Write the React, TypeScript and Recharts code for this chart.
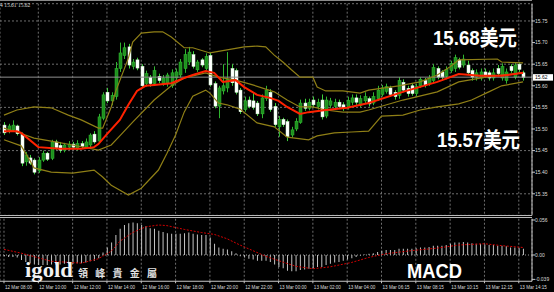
import React from 'react';
import { ComposedChart, Bar, Line, XAxis, YAxis, CartesianGrid, ReferenceLine } from 'recharts';

// ---- candles (M15) ----
const opens = [15.509,15.494,15.498,15.507,15.488,15.424,15.433,15.428,15.403,15.428,15.444,15.432,15.470,15.462,15.451,15.458,15.465,15.456,15.466,15.458,15.463,15.488,15.472,15.525,15.585,15.565,15.575,15.640,15.670,15.690,15.645,15.660,15.645,15.605,15.620,15.605,15.622,15.605,15.605,15.600,15.618,15.625,15.640,15.655,15.672,15.637,15.660,15.640,15.670,15.605,15.553,15.588,15.595,15.640,15.635,15.590,15.545,15.567,15.565,15.560,15.535,15.570,15.585,15.552,15.505,15.522,15.517,15.486,15.500,15.515,15.560,15.548,15.567,15.552,15.567,15.530,15.555,15.552,15.562,15.556,15.550,15.562,15.572,15.555,15.565,15.570,15.560,15.570,15.580,15.587,15.595,15.585,15.578,15.608,15.594,15.600,15.582,15.600,15.612,15.605,15.612,15.640,15.632,15.622,15.635,15.640,15.660,15.648,15.648,15.635,15.620,15.618,15.632,15.630,15.618,15.640,15.618,15.612,15.645,15.620,15.650,15.630];
const highs = [15.516,15.512,15.520,15.510,15.492,15.447,15.440,15.432,15.435,15.450,15.447,15.475,15.475,15.470,15.468,15.472,15.470,15.474,15.472,15.478,15.490,15.495,15.535,15.585,15.595,15.585,15.655,15.700,15.700,15.697,15.662,15.665,15.650,15.635,15.625,15.645,15.628,15.625,15.630,15.638,15.640,15.662,15.685,15.690,15.680,15.660,15.664,15.675,15.676,15.610,15.600,15.650,15.678,15.650,15.640,15.595,15.575,15.575,15.585,15.565,15.580,15.600,15.592,15.560,15.530,15.526,15.522,15.505,15.525,15.568,15.570,15.570,15.575,15.570,15.580,15.575,15.572,15.570,15.568,15.562,15.575,15.580,15.580,15.578,15.585,15.575,15.585,15.600,15.602,15.605,15.600,15.590,15.620,15.615,15.600,15.605,15.605,15.620,15.618,15.625,15.650,15.645,15.636,15.645,15.658,15.672,15.665,15.672,15.658,15.640,15.638,15.640,15.640,15.635,15.640,15.648,15.652,15.640,15.650,15.655,15.655,15.635];
const lows = [15.486,15.490,15.495,15.485,15.414,15.415,15.417,15.395,15.398,15.424,15.426,15.428,15.452,15.445,15.446,15.452,15.452,15.450,15.455,15.454,15.458,15.466,15.468,15.520,15.560,15.555,15.568,15.632,15.662,15.640,15.638,15.636,15.595,15.598,15.598,15.600,15.606,15.600,15.598,15.595,15.612,15.620,15.630,15.648,15.640,15.632,15.643,15.635,15.598,15.548,15.525,15.580,15.585,15.600,15.580,15.535,15.540,15.548,15.545,15.530,15.525,15.565,15.540,15.505,15.482,15.505,15.472,15.480,15.495,15.512,15.542,15.543,15.550,15.545,15.522,15.525,15.548,15.548,15.546,15.542,15.545,15.555,15.556,15.550,15.560,15.552,15.555,15.565,15.575,15.582,15.575,15.568,15.570,15.585,15.575,15.577,15.575,15.595,15.596,15.600,15.606,15.615,15.612,15.615,15.630,15.632,15.638,15.642,15.625,15.612,15.612,15.612,15.618,15.612,15.612,15.622,15.612,15.605,15.630,15.615,15.632,15.612];
const closes = [15.491,15.507,15.509,15.489,15.421,15.440,15.421,15.400,15.428,15.444,15.430,15.470,15.457,15.451,15.463,15.465,15.458,15.466,15.460,15.470,15.486,15.470,15.528,15.579,15.565,15.578,15.640,15.676,15.688,15.648,15.655,15.641,15.600,15.628,15.605,15.635,15.612,15.618,15.625,15.630,15.632,15.655,15.672,15.678,15.645,15.655,15.648,15.668,15.602,15.553,15.595,15.600,15.615,15.607,15.585,15.540,15.565,15.552,15.550,15.535,15.572,15.590,15.545,15.510,15.522,15.510,15.482,15.498,15.518,15.560,15.548,15.562,15.556,15.562,15.528,15.567,15.565,15.562,15.552,15.548,15.566,15.572,15.562,15.570,15.575,15.558,15.575,15.590,15.595,15.598,15.580,15.575,15.612,15.590,15.582,15.582,15.598,15.615,15.602,15.618,15.642,15.620,15.620,15.638,15.652,15.665,15.643,15.662,15.630,15.620,15.630,15.632,15.622,15.618,15.630,15.628,15.645,15.632,15.635,15.648,15.638,15.619];

// ---- indicators read at key candles: [candle index, value] ----
const upperBand: [number, number][] = [[0,15.532],[3,15.544],[7,15.551],[11,15.549],[15,15.532],[18,15.521],[22,15.502],[23,15.502],[25,15.551],[26,15.586],[29,15.664],[30,15.701],[32,15.722],[35,15.725],[37,15.725],[39,15.713],[42,15.688],[44,15.688],[48,15.676],[52,15.683],[56,15.690],[59,15.692],[61,15.690],[63,15.671],[65,15.655],[67,15.637],[69,15.620],[72,15.620],[73,15.597],[75,15.588],[79,15.588],[83,15.583],[85,15.590],[92,15.600],[97,15.609],[101,15.625],[104,15.644],[106,15.660],[115,15.662],[116,15.655],[121,15.653]];
const middleBand: [number, number][] = [[0,15.502],[3,15.493],[7,15.479],[11,15.472],[16,15.463],[22,15.451],[25,15.463],[27,15.484],[30,15.516],[35,15.567],[39,15.600],[42,15.618],[47,15.630],[50,15.620],[54,15.613],[58,15.602],[63,15.586],[66,15.567],[69,15.551],[72,15.551],[75,15.544],[79,15.539],[83,15.539],[85,15.544],[93,15.567],[101,15.586],[106,15.609],[114,15.623],[121,15.630]];
const lowerBand: [number, number][] = [[0,15.475],[4,15.461],[6,15.428],[7,15.410],[11,15.400],[16,15.398],[21,15.405],[23,15.389],[25,15.370],[29,15.347],[32,15.363],[36,15.405],[38,15.444],[40,15.486],[42,15.539],[44,15.576],[47,15.590],[48,15.583],[50,15.560],[52,15.556],[55,15.546],[59,15.514],[63,15.505],[66,15.481],[71,15.475],[73,15.484],[77,15.491],[81,15.493],[85,15.495],[88,15.530],[93,15.532],[97,15.544],[101,15.551],[106,15.558],[109,15.567],[113,15.586],[116,15.600],[121,15.609]];
const movingAvg: [number, number][] = [[0,15.495],[3,15.495],[4,15.491],[8,15.458],[13,15.454],[18,15.454],[21,15.458],[22,15.465],[24,15.488],[27,15.521],[29,15.556],[31,15.588],[33,15.600],[35,15.602],[39,15.606],[42,15.618],[44,15.625],[47,15.634],[49,15.630],[51,15.609],[54,15.613],[56,15.597],[59,15.579],[62,15.572],[64,15.565],[66,15.551],[69,15.535],[71,15.539],[75,15.544],[80,15.549],[85,15.560],[93,15.586],[101,15.609],[106,15.627],[111,15.623],[116,15.623],[121,15.630]];

// ---- MACD ----
const macdHist = [-0.002,-0.003,-0.003,-0.004,-0.008,-0.011,-0.013,-0.015,-0.016,-0.016,-0.016,-0.015,-0.015,-0.015,-0.014,-0.014,-0.014,-0.013,-0.013,-0.012,-0.010,-0.009,-0.005,0.004,0.012,0.020,0.032,0.042,0.048,0.051,0.052,0.051,0.048,0.046,0.043,0.042,0.039,0.037,0.035,0.034,0.034,0.034,0.035,0.036,0.034,0.033,0.032,0.032,0.028,0.018,0.012,0.010,0.009,0.006,0.003,-0.002,-0.004,-0.006,-0.007,-0.009,-0.009,-0.009,-0.011,-0.015,-0.019,-0.021,-0.025,-0.026,-0.026,-0.024,-0.023,-0.022,-0.021,-0.019,-0.019,-0.016,-0.014,-0.012,-0.011,-0.009,-0.007,-0.005,-0.003,-0.001,0.001,0.002,0.003,0.005,0.007,0.008,0.008,0.008,0.010,0.010,0.010,0.010,0.011,0.012,0.012,0.013,0.015,0.015,0.015,0.016,0.018,0.020,0.020,0.021,0.020,0.019,0.018,0.018,0.017,0.016,0.016,0.015,0.015,0.014,0.012,0.012,0.011,0.010];
const macdSignal: [number, number][] = [[0,0.009],[4,0.003],[11,-0.010],[18,-0.013],[22,-0.006],[25,0.006],[27,0.022],[30,0.036],[33,0.045],[36,0.048],[38,0.047],[42,0.041],[46,0.036],[49,0.033],[52,0.026],[55,0.016],[58,0.007],[61,-0.002],[64,-0.009],[68,-0.018],[72,-0.022],[76,-0.019],[81,-0.012],[85,-0.004],[89,0.002],[95,0.007],[101,0.011],[106,0.016],[112,0.018],[116,0.015],[121,0.012]];

// ---- axes ----
const timeLabels = ['12 Mar 08:00','12 Mar 10:00','12 Mar 12:00','12 Mar 14:00','12 Mar 16:00','12 Mar 18:00','12 Mar 20:00','12 Mar 22:00','13 Mar 00:00','13 Mar 02:00','13 Mar 04:00','13 Mar 06:15','13 Mar 08:15','13 Mar 10:15','13 Mar 12:15','13 Mar 14:15'];
const labelStep = 8;
const priceTicks = [15.35,15.40,15.45,15.50,15.55,15.60,15.65,15.70,15.75];
const macdTicks = [-0.039, 0, 0.056];
const lastPrice = 15.62;
const annotHigh = '15.68美元';
const annotLow = '15.57美元';
const header = '4 15.61 15.62';

const xTicks = timeLabels.map((_, k) => k * labelStep);
const X_DOMAIN: [number, number] = [-0.93, 123.08];

const mapOf = (pts: [number, number][]) => new Map(pts);
const upM = mapOf(upperBand), midM = mapOf(middleBand), loM = mapOf(lowerBand), maM = mapOf(movingAvg), sigM = mapOf(macdSignal);

const rows = opens.map((o, i) => ({
  i,
  o, h: highs[i], l: lows[i], c: closes[i],
  range: [lows[i], highs[i]],
  macd: macdHist[i],
  upper: upM.get(i) ?? null,
  middle: midM.get(i) ?? null,
  lower: loM.get(i) ?? null,
  ma: maM.get(i) ?? null,
  signal: sigM.get(i) ?? null,
}));

const Candle = (props: any) => {
  const { x, y, width, height, payload } = props;
  if (x == null || y == null) return null;
  const top = Math.min(y, y + height);
  const hh = Math.abs(height);
  const { o, h, l, c } = payload;
  const span = h - l || 1;
  const yOf = (v: number) => top + ((h - v) / span) * hh;
  const cx = Math.round(x + width / 2) + 0.5;
  const bt = yOf(Math.max(o, c));
  const bb = yOf(Math.min(o, c));
  const bull = c >= o;
  return (
    <g>
      <line x1={cx} x2={cx} y1={top} y2={top + hh} stroke={bull ? '#2fb52f' : '#3ccf3c'} strokeWidth={1} />
      <rect x={cx - 1.5} y={bt} width={3} height={Math.max(1, bb - bt)}
        fill={bull ? '#1f8f1f' : '#ffffff'} stroke={bull ? '#33c033' : '#d8ffd8'} strokeWidth={0.5} />
    </g>
  );
};

const PriceTag = (props: any) => {
  const vb = props.viewBox || {};
  const xr = (vb.x ?? 0) + (vb.width ?? 0);
  const yy = vb.y ?? 0;
  return (
    <g>
      <rect x={xr + 1} y={yy - 3} width={20} height={6.5} fill="#ffffff" />
      <text x={xr + 3} y={yy + 2} fontSize={5} fontFamily="Liberation Sans" fill="#000">{lastPrice.toFixed(2)}</text>
    </g>
  );
};

const TimeTick = (props: any) => {
  const { x, y, payload } = props;
  const k = Math.round(payload.value / labelStep);
  return (
    <text x={x + 1} y={y + 4} fontSize={4.6} fontFamily="Liberation Sans" fill="#dcdcdc" textAnchor="start">
      {timeLabels[k]}
    </text>
  );
};

const tickStyle = { fill: '#dcdcdc', fontSize: 5, fontFamily: 'Liberation Sans' };

export default function App() {
  return (
    <div style={{ position: 'absolute', left: 0, top: 0, width: 554, height: 292, background: '#000', overflow: 'hidden' }}>
      <div style={{ position: 'absolute', left: 0, top: 0 }}>
        <ComposedChart width={554} height={218} data={rows} margin={{ top: 3.7, right: 0, left: 0, bottom: 2.6 }}>
          <CartesianGrid stroke="#8a8a8a" strokeDasharray="2 2" strokeWidth={0.8} />
          <XAxis dataKey="i" type="number" domain={X_DOMAIN} ticks={xTicks} hide allowDataOverflow />
          <YAxis orientation="right" width={22} domain={[15.30, 15.79]} ticks={priceTicks} allowDataOverflow
            tickFormatter={(v: number) => v.toFixed(2)} tick={tickStyle} tickSize={3} tickMargin={0}
            axisLine={{ stroke: '#c8c8c8' }} tickLine={{ stroke: '#c8c8c8' }} />
          <ReferenceLine y={lastPrice} stroke="#8f8f8f" strokeWidth={1} label={<PriceTag />} />
          <Line dataKey="upper" stroke="#8f7f16" strokeWidth={1.2} dot={false} connectNulls isAnimationActive={false} />
          <Line dataKey="middle" stroke="#8f7f16" strokeWidth={1.2} dot={false} connectNulls isAnimationActive={false} />
          <Line dataKey="lower" stroke="#8f7f16" strokeWidth={1.2} dot={false} connectNulls isAnimationActive={false} />
          <Bar dataKey="range" barSize={3} shape={<Candle />} isAnimationActive={false} />
          <Line dataKey="ma" stroke="#ff2200" strokeWidth={2} dot={false} connectNulls isAnimationActive={false} />
        </ComposedChart>
      </div>
      <div style={{ position: 'absolute', left: 0, top: 210 }}>
        <ComposedChart width={554} height={82} data={rows} margin={{ top: 8.75, right: 0, left: 0, bottom: 0 }}>
          <CartesianGrid stroke="#8a8a8a" strokeDasharray="2 2" strokeWidth={0.8} horizontal={false} />
          <XAxis dataKey="i" type="number" domain={X_DOMAIN} ticks={xTicks} allowDataOverflow height={10.75}
            tick={<TimeTick />} tickSize={2} axisLine={{ stroke: '#c8c8c8' }} tickLine={{ stroke: '#c8c8c8' }} interval={0} />
          <YAxis orientation="right" width={22} domain={[-0.042, 0.058]} ticks={macdTicks} allowDataOverflow
            tickFormatter={(v: number) => (v === 0 ? '0.00' : String(v))} tick={tickStyle} tickSize={3} tickMargin={0}
            axisLine={{ stroke: '#c8c8c8' }} tickLine={{ stroke: '#c8c8c8' }} />
          <ReferenceLine y={0} stroke="#9a9a9a" strokeDasharray="1 2" />
          <Bar dataKey="macd" barSize={1} fill="#c4c4c4" isAnimationActive={false} />
          <Line dataKey="signal" stroke="#d00000" strokeWidth={1} strokeDasharray="2 1.5" dot={false} connectNulls isAnimationActive={false} />
        </ComposedChart>
      </div>
      <svg width={554} height={292} style={{ position: 'absolute', left: 0, top: 0, pointerEvents: 'none' }}>
        <line x1={0} x2={532} y1={0.5} y2={0.5} stroke="#8a8a8a" />
        <line x1={0} x2={532} y1={215.5} y2={215.5} stroke="#b8b8b8" />
        <line x1={0} x2={532} y1={217.5} y2={217.5} stroke="#b8b8b8" />
        <text x={0} y={7} fontSize={5.5} fontFamily="Liberation Serif" fill="#dcdcdc">{header}</text>
        <text x={433} y={45} fontSize={21} fontWeight="bold" fontFamily="Liberation Sans, Noto Sans CJK SC" fill="#ffffff" textLength={84} lengthAdjust="spacingAndGlyphs">{annotHigh}</text>
        <text x={437} y={147} fontSize={21} fontWeight="bold" fontFamily="Liberation Sans, Noto Sans CJK SC" fill="#ffffff" textLength={83} lengthAdjust="spacingAndGlyphs">{annotLow}</text>
        <text x={407} y={278} fontSize={21} fontWeight="bold" fontFamily="Liberation Sans" fill="#ffffff" textLength={55} lengthAdjust="spacingAndGlyphs">MACD</text>
        <text x={25} y={277} fontSize={22} fontWeight="bold" fontFamily="Liberation Serif" fill="#f2f2f2" textLength={48} lengthAdjust="spacingAndGlyphs">igold</text>
        <text x={78} y={277} fontSize={10} fontWeight="bold" fontFamily="Noto Sans CJK TC" fill="#e0e0e0" textLength={79} lengthAdjust="spacing">領峰貴金屬</text>
      </svg>
    </div>
  );
}
